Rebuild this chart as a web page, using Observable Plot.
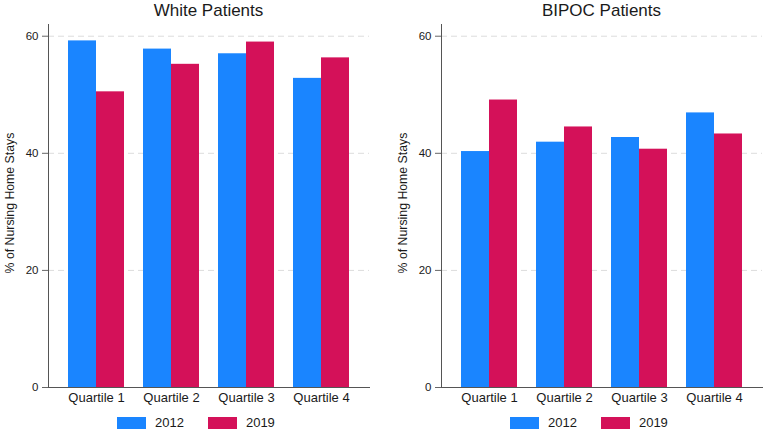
<!DOCTYPE html>
<html><head><meta charset="utf-8">
<script src="https://cdn.jsdelivr.net/npm/d3@7"></script>
<script src="https://cdn.jsdelivr.net/npm/@observablehq/plot@0.6"></script>
<style>
  html, body { margin: 0; padding: 0; background: #fff; }
  body { width: 765px; height: 434px; position: relative; overflow: hidden;
         font-family: "Liberation Sans", Arial, Helvetica, sans-serif; color: #1a1a1a; }
  .panel { position: absolute; top: 0; width: 372px; height: 434px; }
  .title { position: absolute; top: 0; left: 48px; width: 321px; text-align: center;
           font-size: 17px; line-height: 22px; }
  .ylabel { position: absolute; left: -140px; top: 196px; width: 300px; text-align: center;
            font-size: 12.3px; line-height: 14px; transform: rotate(-90deg); transform-origin: 50% 50%;
            white-space: nowrap; }
  .chart { position: absolute; top: 19px; left: 0; width: 372px; height: 392px; }
  .chart svg { display: block; max-width: none; }
  .legend { position: absolute; top: 416px; left: 117px; display: flex; align-items: center;
            font-size: 13px; line-height: 14px; }
  .sw { width: 29px; height: 12px; display: inline-block; margin-right: 9px; }
  .item { display: flex; align-items: center; margin-right: 24px; }
</style></head>
<body>
<script>
const quartiles = ["Quartile 1", "Quartile 2", "Quartile 3", "Quartile 4"];
const years = ["2012", "2019"];
const white2012 = [59.2, 57.8, 57.0, 52.8];
const white2019 = [50.5, 55.2, 59.0, 56.3];
const bipoc2012 = [40.3, 41.9, 42.7, 46.9];
const bipoc2019 = [49.1, 44.5, 40.7, 43.3];
const yTicks = [0, 20, 40, 60];
const titles = ["White Patients", "BIPOC Patients"];
const yLabel = "% of Nursing Home Stays";
const colors = ["#1A85FF", "#D41159"];

const panels = [
  {title: titles[0], a: white2012, b: white2019, left: 0},
  {title: titles[1], a: bipoc2012, b: bipoc2019, left: 393}
];

function rows(vals, yr) {
  return quartiles.map((q, i) => ({quartile: q, year: yr, value: vals[i]}));
}

function build(a, b, half) {
  return Plot.plot({
    width: 372, height: 392,
    marginLeft: 48, marginRight: 3, marginTop: 5, marginBottom: 24,
    style: {fontFamily: "'Liberation Sans', Arial, sans-serif", fontSize: "13px", color: "#1a1a1a", background: "transparent", overflow: "visible"},
    x: {domain: quartiles, padding: 0.26, label: null},
    y: {domain: [0, 62], label: null},
    color: {domain: years, range: colors},
    marks: [
      Plot.gridY(yTicks.slice(1), {stroke: "#dcdcdc", strokeOpacity: 1, strokeDasharray: "6,4"}),
      Plot.barY(rows(a, years[0]), {x: "quartile", y: "value", fill: "year", insetRight: half}),
      Plot.barY(rows(b, years[1]), {x: "quartile", y: "value", fill: "year", insetLeft: half}),
      Plot.axisY(yTicks, {tickSize: 6, tickPadding: 4, fontSize: 11.5, stroke: "#666", label: null}),
      Plot.axisX({tickSize: 0, tickPadding: 5, label: null, fontSize: 13}),
      Plot.frame({anchor: "left", stroke: "#555"}),
      Plot.frame({anchor: "bottom", stroke: "#555"})
    ]
  });
}

for (const p of panels) {
  const div = document.createElement("div");
  div.className = "panel";
  div.style.left = p.left + "px";
  const t = document.createElement("div");
  t.className = "title";
  t.textContent = p.title;
  div.appendChild(t);
  const probe = build(p.a, p.b, 0);
  const half = probe.scale("x").bandwidth / 2;
  const chart = build(p.a, p.b, half);
  const wrap = document.createElement("div");
  wrap.className = "chart";
  wrap.appendChild(chart);
  div.appendChild(wrap);
  const yl = document.createElement("div");
  yl.className = "ylabel";
  yl.textContent = yLabel;
  div.appendChild(yl);
  const lg = document.createElement("div");
  lg.className = "legend";
  years.forEach((y, i) => {
    const it = document.createElement("div");
    it.className = "item";
    const sw = document.createElement("span");
    sw.className = "sw";
    sw.style.background = colors[i];
    const tx = document.createElement("span");
    tx.textContent = y;
    it.appendChild(sw); it.appendChild(tx);
    lg.appendChild(it);
  });
  div.appendChild(lg);
  document.body.appendChild(div);
}
</script>
</body></html>
